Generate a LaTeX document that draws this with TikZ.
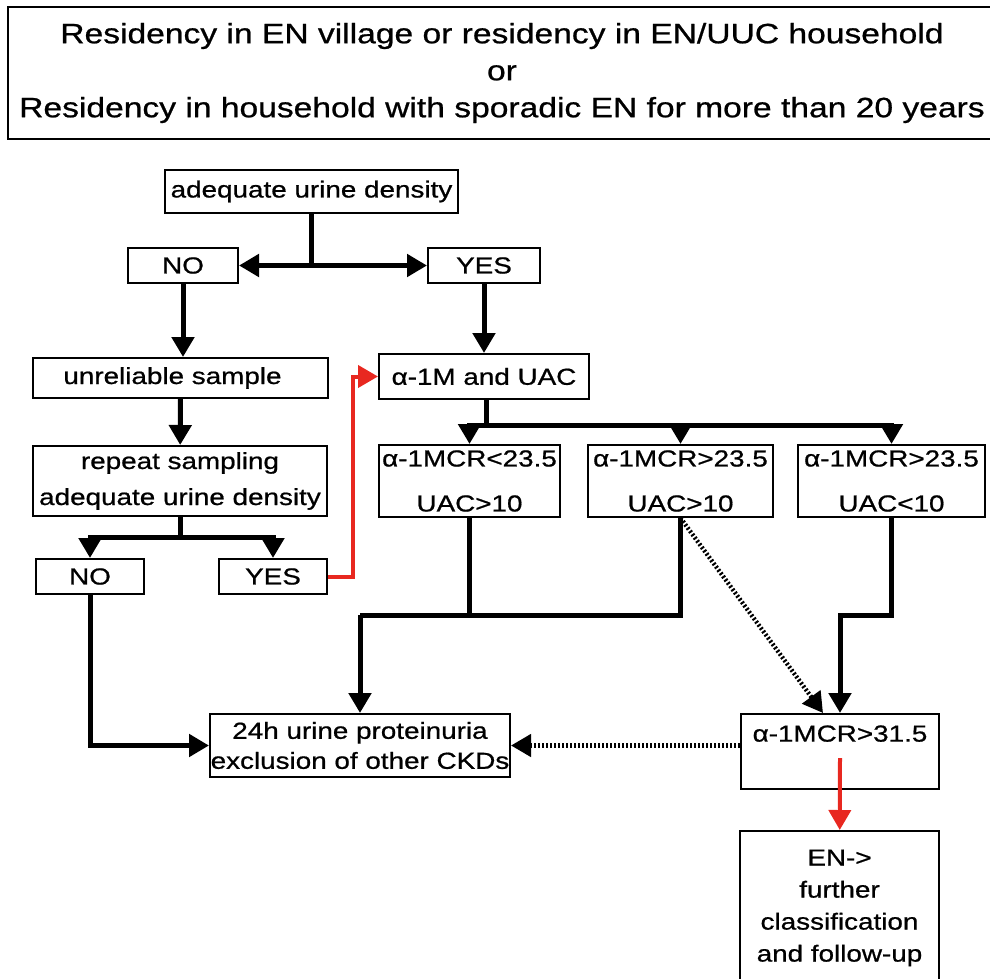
\documentclass[tikz,border=0pt]{standalone}
\usepackage{fontspec}
\setmainfont{Liberation Sans}[FakeStretch=1.2, FakeBold=0.8]
\usetikzlibrary{arrows.meta}

\definecolor{flowred}{RGB}{232,40,32}
\newcommand{\boxfont}{\fontsize{11.6}{18}\selectfont}
\newcommand{\titlefont}{\fontsize{14}{18.5}\selectfont}

\tikzset{%
  box/.style={
    draw,
    line width=1pt,
    inner sep=0pt,
    align=center,
    font=\boxfont
  },
  box size/.style 2 args={
    minimum width=#1*0.5pt,
    minimum height=#2*0.5pt
  },
  link/.style={line width=2.5pt},
  flow/.style={link, ->},
  hint/.style={line width=2.2pt, dash pattern=on 1pt off 1pt, ->},
  red flow/.style={flow, draw=flowred, line width=2pt},
}

\begin{document}
\begin{tikzpicture}[x=0.5pt, y=-0.5pt, >={Triangle[length=10pt,width=11pt]}]
        \useasboundingbox (0,0) rectangle (990,979);

            % header
            \node [box, box size={988}{132}, font=\titlefont] (residency) at (502,73)
              {Residency in EN village or residency in EN/UUC household\\ or\\
               Residency in household with sporadic EN for more than 20 years};

            % first check
            \node [box, box size={293}{43}] (density) at (311.5,191.5) {adequate urine density};
            \node [box, box size={110}{35}] (no-1) at (183,265.5) {NO};
            \node [box, box size={112}{35}] (yes-1) at (484,265.5) {YES};

            % left branch
            \node [box, box size={295}{40}] (unreliable) at (180.5,378) {unreliable sample\hspace*{8pt}};
            \node [box, box size={294}{70}] (repeat) at (180,481) {repeat sampling\\ adequate urine density};
            \node [box, box size={108}{35}] (no-2) at (90,576.5) {NO};
            \node [box, box size={108}{35}] (yes-2) at (273,576.5) {YES};

            % right branch
            \node [box, box size={210}{45}] (alpha) at (484,376.5) {α-1M and UAC};
            \foreach \x/\w/\r/\u [count=\i] in {469.5/181/<23.5/>10, 680.5/185/>23.5/>10, 891.5/187/>23.5/<10}
              \node [box, box size={\w}{72}, font=\fontsize{11.6}{22.5}\selectfont] (ratio-\i) at (\x,481) {α-1MCR\r\\ UAC\u};

            % outcomes
            \node [box, box size={300}{63}, font=\fontsize{11.6}{15}\selectfont] (urine) at (360,745.5)
              {24h urine proteinuria\\ exclusion of other CKDs};
            \node [box, box size={198}{75}] (ratio-high) at (840,751.5) {α-1MCR>31.5\\ \mbox{}};
            \node [box, box size={199}{154}, font=\fontsize{11.6}{16}\selectfont] (en) at (839.5,908)
              {EN->\\ further\\ classification\\ and follow-up};

            \coordinate (split-1) at (311.5,265.5);
            \coordinate (split-2) at (180,537);
            \coordinate (split-3) at (486,425);
            \coordinate (merge-1) at (360,615);

            \draw [link] (density) -- (split-1);
            \draw [flow] (split-1) -- (no-1);
            \draw [flow] (split-1) -- (yes-1);

            \draw [flow] (no-1.south) -- (no-1.south |- unreliable.north);
            \draw [flow] (unreliable) -- (repeat);
            \draw [link] (repeat) -- (split-2);
            \draw [flow] (split-2) -| (no-2);
            \draw [flow] (split-2) -| (yes-2);
            \draw [red flow] (yes-2.east) -- ++(25,0) |- (alpha.west);

            \draw [flow] (yes-1) -- (alpha);
            \draw [link] (split-3 |- alpha.south) -- (split-3);
            \foreach \i in {1,2,3}
              \draw [flow] (split-3) -| (ratio-\i);

            \draw [link] (ratio-1) |- (merge-1);
            \draw [link] (ratio-2) |- (merge-1);
            \draw [flow] (merge-1) -- (urine);
            \draw [flow] (no-2) |- (urine);

            \draw [hint] (ratio-2.south) -- ([xshift=-8.5pt]ratio-high.north);
            \draw [flow] (ratio-3.south) -- ++(0,97) -| (ratio-high);
            \draw [hint] (ratio-high.west |- urine) -- (urine);
            \draw [red flow] ([yshift=-3.25pt]ratio-high.center) -- (en);

        \end{tikzpicture}
\end{document}
